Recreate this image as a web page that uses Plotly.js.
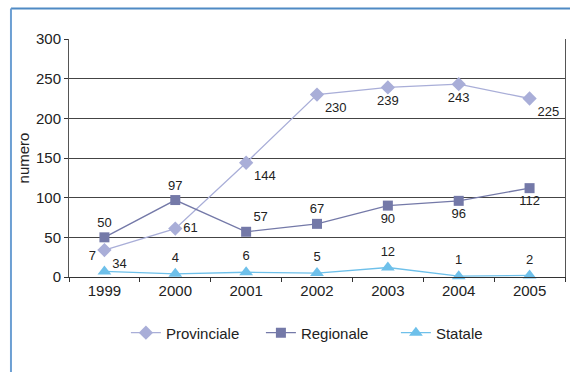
<!DOCTYPE html>
<html>
<head>
<meta charset="utf-8">
<script src="https://cdn.plot.ly/plotly-3.0.1.min.js"></script>
<style>html,body{margin:0;padding:0;background:#fff;}#chart{width:570px;height:372px;}</style>
</head>
<body>
<div id="chart"></div>
<script>
const years = ["1999","2000","2001","2002","2003","2004","2005"];
const provinciale = [34, 61, 144, 230, 239, 243, 225];
const regionale = [50, 97, 57, 67, 90, 96, 112];
const statale = [7, 4, 6, 5, 12, 1, 2];
const provPos = ["bottom right","middle right","bottom right","bottom right","bottom center","bottom center","bottom right"];
const regPos = ["top center","top center","top right","top center","bottom center","bottom center","bottom center"];
const statPos = ["top left","top center","top center","top center","top center","top center","top center"];

const tf = {family: "Liberation Sans, Arial, sans-serif", size: 13, color: "#222"};
const traces = [
  {x: years, y: provinciale, name: "Provinciale", mode: "lines+markers+text",
   text: provinciale.map(String), textposition: provPos, textfont: tf, cliponaxis: false,
   line: {color: "#A9AED8", width: 1.3}, marker: {symbol: "diamond", size: 11, color: "#A9AED8"}},
  {x: years, y: regionale, name: "Regionale", mode: "lines+markers+text",
   text: regionale.map(String), textposition: regPos, textfont: tf, cliponaxis: false,
   line: {color: "#7479A8", width: 1.3}, marker: {symbol: "square", size: 10, color: "#7479A8"}},
  {x: years, y: statale, name: "Statale", mode: "lines+markers+text",
   text: statale.map(String), textposition: statPos, textfont: tf, cliponaxis: false,
   line: {color: "#6EC0EA", width: 1.3}, marker: {symbol: "triangle-up", size: 12, color: "#6EC0EA"}}
];
const layout = {
  width: 570, height: 372,
  margin: {l: 69, r: 5, t: 39, b: 95},
  paper_bgcolor: "#fff", plot_bgcolor: "#fff",
  font: {family: "Liberation Sans, Arial, sans-serif", size: 15, color: "#222"},
  showlegend: true,
  legend: {orientation: "h", x: 0.523, xanchor: "center", y: -0.235, yanchor: "middle",
           font: {size: 15, color: "#222"}, entrywidth: 90, entrywidthmode: "pixels"},
  xaxis: {type: "category", range: [-0.5, 6.5], showline: true, linecolor: "#333", linewidth: 1,
          ticks: "outside", tickson: "boundaries", ticklen: 4, tickcolor: "#333",
          showgrid: false, zeroline: false, tickfont: {size: 15}, fixedrange: true},
  yaxis: {range: [0, 300], dtick: 50, showline: true, mirror: true, linecolor: "#555", linewidth: 1,
          ticks: "outside", ticklen: 4, tickcolor: "#333", showgrid: true, gridcolor: "#444", gridwidth: 1,
          zeroline: false, tickfont: {size: 15},
          title: {text: "numero", font: {size: 15}, standoff: 2}},
  shapes: [
    {type: "line", xref: "paper", yref: "paper", x0: -0.117, x1: 1.02, y0: 1.128, y1: 1.128,
     line: {color: "#4F8AC4", width: 2}},
    {type: "line", xref: "paper", yref: "paper", x0: -0.117, x1: -0.117, y0: 1.128, y1: -0.42,
     line: {color: "#6C9FD3", width: 2}}
  ]
};
Plotly.newPlot("chart", traces, layout, {displayModeBar: false, staticPlot: true});
</script>
</body>
</html>
